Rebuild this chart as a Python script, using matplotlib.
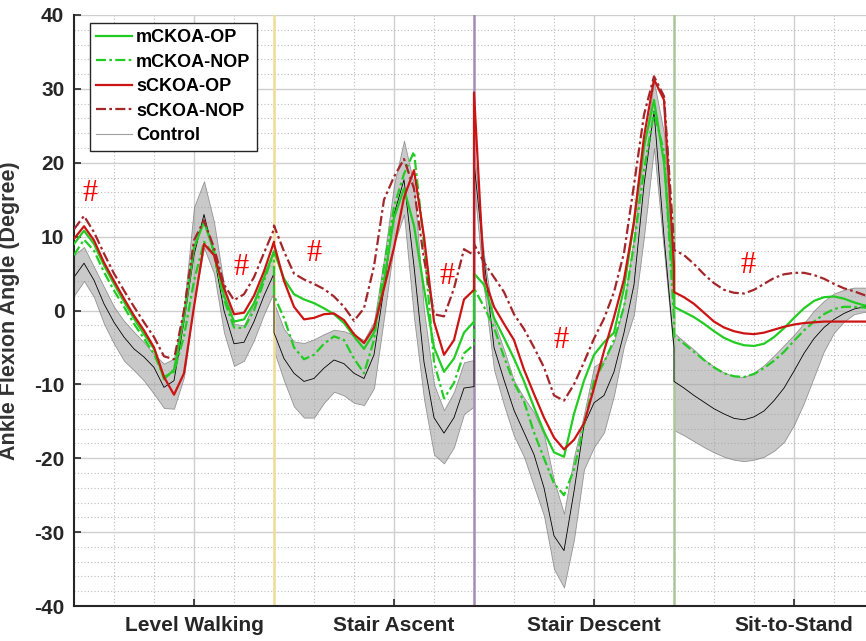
import numpy as np
import matplotlib
matplotlib.use("Agg")
import matplotlib.pyplot as plt
from matplotlib.lines import Line2D
from matplotlib.ticker import MultipleLocator

# =====================================
# Data (ankle flexion angle, 4 tasks, 0-100% each, step 5)
# =====================================
tasks = ["Level Walking", "Stair Ascent", "Stair Descent", "Sit-to-Stand"]
pct = [0, 5, 10, 15, 20, 25, 30, 35, 40, 45, 50, 55, 60, 65, 70, 75, 80, 85, 90, 95, 100]

m_op = [
    9.0, 10.8, 9.0, 6.1, 3.6, 1.2, -1.1, -3.2, -5.2, -9.3, -8.0, -1.0, 8.5, 12.0, 8.0, 2.0, -1.5, -1.2, 1.0, 4.5, 8.0,
    8.0, 4.3, 2.2, 1.5, 1.0, 0.3, -0.5, -1.7, -3.5, -5.2, -3.0, 4.0, 12.5, 16.5, 11.5, 3.0, -5.0, -8.3, -6.5, -3.0, -1.5,
    5.0, 3.5, -1.0, -3.7, -6.5, -9.6, -13.1, -16.4, -19.2, -19.8, -14.0, -9.5, -6.0, -4.3, -3.0, 3.0, 12.0, 22.2, 28.5, 20.0, 3.0,
    0.5, -0.2, -0.9, -1.8, -2.8, -3.7, -4.3, -4.7, -4.8, -4.5, -3.6, -2.4, -1.0, 0.3, 1.3, 1.8, 1.9, 1.6, 1.1, 0.7, 0.6]

m_nop = [
    7.5, 9.6, 8.1, 5.2, 2.7, 0.5, -1.8, -3.8, -5.9, -9.0, -8.3, -3.5, 4.0, 9.3, 7.5, 1.5, -2.3, -2.4, 0.0, 4.0, 8.0,
    2.0, -1.0, -5.0, -6.6, -6.0, -4.5, -3.5, -4.0, -6.5, -8.5, -4.0, 6.0, 14.0, 18.5, 21.5, 9.0, -7.0, -11.9, -9.8, -5.8, -4.6,
    3.0, 0.5, -2.3, -6.3, -9.8, -12.3, -16.5, -20.0, -23.4, -25.0, -21.5, -15.5, -9.5, -7.0, -4.0, 0.5, 9.0, 19.0, 26.8, 21.5, -1.0,
    -3.5, -4.5, -5.6, -6.7, -7.7, -8.5, -8.9, -9.0, -8.6, -7.8, -6.8, -5.6, -4.1, -2.7, -1.5, -0.5, 0.2, 0.5, 0.5, 0.4, 0.3]

s_op = [
    9.7, 11.4, 9.5, 6.5, 4.0, 1.6, -0.7, -2.7, -5.0, -9.0, -11.4, -8.5, 0.5, 9.0, 7.5, 3.0, -0.5, -0.3, 2.0, 5.3, 9.3,
    9.0, 4.0, 0.5, -1.2, -1.0, -0.5, -0.4, -1.3, -3.2, -4.4, -2.3, 3.0, 8.5, 15.3, 19.0, 10.0, -1.5, -6.0, -4.0, 1.5, 2.8,
    29.5, 4.5, 0.5, -1.8, -4.0, -8.0, -11.3, -14.5, -17.2, -18.8, -17.5, -15.3, -10.5, -5.5, -0.9, 4.2, 12.0, 23.5, 31.3, 28.5, 6.0,
    2.5, 1.8, 0.9, -0.3, -1.5, -2.3, -2.8, -3.1, -3.2, -3.0, -2.6, -2.2, -1.9, -1.7, -1.6, -1.5, -1.5, -1.5, -1.5, -1.5, -1.5]

s_nop = [
    11.0, 12.8, 10.6, 7.7, 5.0, 2.7, 0.5, -1.6, -3.6, -6.2, -6.6, 0.0, 9.5, 12.2, 8.5, 3.5, 1.4, 2.2, 4.5, 7.8, 11.0,
    11.5, 8.0, 5.0, 4.2, 3.6, 2.9, 1.9, 0.5, -1.4, 0.3, 6.0, 15.0, 18.1, 20.5, 16.5, 7.0, -0.5, -0.8, 3.0, 8.3, 7.5,
    9.0, 6.5, 4.5, 2.5, -0.5, -2.5, -5.0, -7.7, -11.5, -12.2, -10.0, -7.0, -3.8, -1.1, 2.5, 7.8, 17.0, 26.5, 31.7, 29.0, 9.0,
    8.2, 7.5, 6.3, 4.9, 3.7, 2.8, 2.4, 2.3, 2.8, 3.6, 4.4, 4.9, 5.1, 5.1, 4.8, 4.3, 3.6, 3.0, 2.6, 2.1, 1.8]

ctrl = [
    4.5, 6.4, 4.1, 0.9, -1.6, -3.6, -5.2, -6.3, -7.7, -10.4, -9.5, -1.5, 7.5, 13.0, 7.5, 0.0, -4.5, -4.3, -1.5, 2.0, 5.0,
    -3.0, -6.5, -8.5, -9.6, -9.2, -7.8, -6.7, -7.2, -8.5, -9.2, -6.0, 3.0, 13.0, 17.7, 6.0, -7.0, -14.5, -16.6, -14.5, -10.5, -10.3,
    20.0, 7.0, -5.0, -9.4, -13.5, -16.5, -19.5, -24.0, -30.5, -32.5, -24.5, -15.5, -12.5, -11.5, -8.3, -3.0, 3.5, 17.0, 27.0, 10.0, -5.0,
    -9.6, -10.5, -11.5, -12.4, -13.3, -14.0, -14.6, -14.8, -14.4, -13.6, -12.2, -10.5, -8.2, -5.8, -3.8, -2.3, -1.2, -0.4, 0.2, 0.5, 0.6]

ctrl_hi = [
    7.5, 8.6, 5.9, 3.2, 0.5, -1.4, -2.9, -4.3, -5.9, -7.2, -6.5, 0.5, 14.0, 17.5, 12.0, 3.5, -1.8, -2.0, 1.0, 4.5, 8.0,
    1.0, -2.5, -4.2, -4.4, -3.9, -3.2, -2.6, -2.8, -3.3, -4.0, -1.5, 7.0, 17.0, 23.0, 17.0, 0.0, -10.0, -13.5, -11.0, -7.0, -6.7,
    22.0, 7.5, -1.5, -5.3, -9.5, -11.8, -13.8, -16.8, -23.0, -27.5, -19.8, -14.0, -7.6, -6.7, -4.2, 1.0, 10.0, 22.0, 31.0, 24.0, 3.0,
    -3.0, -4.2, -5.3, -6.6, -7.6, -8.4, -8.9, -9.0, -8.4, -7.4, -6.1, -4.7, -3.3, -1.7, 0.0, 1.3, 2.3, 2.8, 3.1, 3.1, 3.0]

ctrl_lo = [
    2.0, 4.0, 1.8, -1.8, -4.5, -6.8, -8.1, -9.5, -11.3, -13.2, -13.3, -9.0, 1.0, 8.5, 5.0, -3.0, -7.5, -6.8, -4.0, -0.5, 2.5,
    -5.5, -9.5, -13.0, -14.5, -14.5, -12.5, -11.0, -11.5, -12.5, -12.8, -10.5, -1.0, 9.0, 13.0, -1.0, -12.0, -19.5, -20.7, -18.5, -14.0, -13.0,
    17.0, 3.0, -8.0, -12.8, -17.0, -19.8, -23.8, -27.8, -35.0, -37.5, -31.0, -21.5, -18.5, -16.5, -11.5, -4.8, -0.5, 10.0, 22.0, 8.0, -6.0,
    -16.2, -16.9, -17.7, -18.5, -19.2, -19.8, -20.2, -20.4, -20.2, -19.8, -19.0, -17.8, -15.5, -12.5, -9.0, -5.5, -3.0, -1.5, -0.5, -0.2, 0.0]

# significance marks
hash_x = [8, 83.5, 120, 186.5, 243.5, 337]
hash_y = [15.8, 5.8, 7.7, 4.6, -4.1, 6.1]

# x axis: each task takes 100 units, boundaries repeated so jumps are vertical
x = np.concatenate([np.array(pct) + 100 * k for k in range(len(tasks))])

# =====================================
# Plot
# =====================================
plt.rcParams['font.family'] = ['Liberation Sans', 'DejaVu Sans']
plt.rcParams['axes.unicode_minus'] = False

fig = plt.figure(figsize=(8.66, 6.41), dpi=100)
ax = fig.add_axes([74 / 866, 35 / 641, 800 / 866, 591 / 641])

green = '#22cc22'
red = '#cc1414'
dred = '#a3262a'
dashdot = (0, (4.5, 1.5, 1.2, 1.5))

ax.fill_between(x, ctrl_lo, ctrl_hi, facecolor=(0.62, 0.62, 0.62, 0.55),
                edgecolor=(0.45, 0.45, 0.45, 0.7), linewidth=0.6, zorder=1)

for xb, c in zip([100, 200, 300], ['#efdc96', '#a48db4', '#a9c69a']):
    ax.axvline(xb, color=c, lw=1.8, zorder=1.5)

ax.plot(x, ctrl, color='black', lw=0.6, zorder=2)
ax.plot(x, m_op, color=green, lw=1.6, zorder=3)
ax.plot(x, m_nop, color=green, lw=1.6, linestyle=dashdot, zorder=3)
ax.plot(x, s_op, color=red, lw=1.6, zorder=4)
ax.plot(x, s_nop, color=dred, lw=1.6, linestyle=dashdot, zorder=4)

for hx, hy in zip(hash_x, hash_y):
    ax.text(hx, hy, '#', color='red', fontsize=22, family='Liberation Serif',
            ha='center', va='center', zorder=5)

ax.set_xlim(0, 400)
ax.set_ylim(-40, 40)
ax.set_xticks([60, 160, 260, 360])
ax.set_xticklabels(tasks)
ax.xaxis.set_minor_locator(MultipleLocator(20))
ax.yaxis.set_major_locator(MultipleLocator(10))
ax.yaxis.set_minor_locator(MultipleLocator(2))

ax.set_axisbelow(True)
ax.grid(which='major', color='#cfcfcf', lw=1.0, linestyle='-')
ax.grid(which='minor', color='#bdbdbd', lw=0.8, linestyle=(0, (1, 2)))

ax.tick_params(which='major', direction='in', length=5, width=1.2, colors='#262626',
               labelsize=15, pad=7)
ax.tick_params(which='minor', length=0)
for lab in ax.get_xticklabels() + ax.get_yticklabels():
    lab.set_fontweight('bold')

for side in ['top', 'right']:
    ax.spines[side].set_visible(False)
for side in ['left', 'bottom']:
    ax.spines[side].set_color('#262626')
    ax.spines[side].set_linewidth(1.5)

ax.set_ylabel('Ankle Flexion Angle (Degree)', fontsize=15.5, fontweight='bold', color='#333333')
ax.yaxis.set_label_coords(-0.068, 0.5)

handles = [
    Line2D([], [], color=green, lw=1.6),
    Line2D([], [], color=green, lw=1.6, linestyle=dashdot),
    Line2D([], [], color=red, lw=1.6),
    Line2D([], [], color=dred, lw=1.6, linestyle=dashdot),
    Line2D([], [], color='#a0a0a0', lw=0.8),
]
labels = ['mCKOA-OP', 'mCKOA-NOP', 'sCKOA-OP', 'sCKOA-NOP', 'Control']
leg = ax.legend(handles, labels, loc='upper left', bbox_to_anchor=(0.02, 0.987),
                prop={'weight': 'bold', 'size': 13}, frameon=True, fancybox=False,
                framealpha=1, edgecolor='#262626', handlelength=2.0, handletextpad=0.2,
                labelspacing=0.42, borderpad=0.35, borderaxespad=0)
leg.get_frame().set_linewidth(1.0)
leg.set_zorder(10)

fig.savefig('out.png', dpi=100)
